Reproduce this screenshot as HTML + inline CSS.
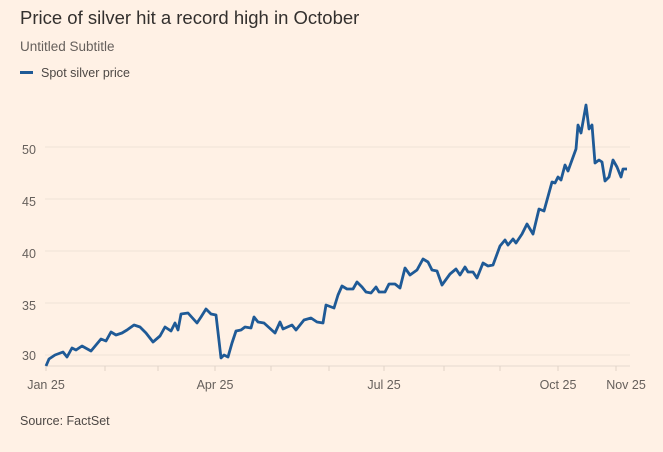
<!DOCTYPE html>
<html><head><meta charset="utf-8"><style>
body{margin:0;background:#fff1e5;width:663px;height:447px;overflow:hidden;font-family:"Liberation Sans",sans-serif}
</style></head><body>
<svg width="663" height="447" xmlns="http://www.w3.org/2000/svg">
<rect width="663" height="447" fill="#fff1e5"/>
<text x="20" y="24" font-size="18.5" fill="#33302e">Price of silver hit a record high in October</text>
<text x="20" y="51" font-size="13.5" fill="#66605c">Untitled Subtitle</text>
<rect x="20" y="71" width="13" height="3" fill="#1f5a96"/>
<text x="41" y="77" font-size="12.5" fill="#4d4845">Spot silver price</text>
<g stroke="#efe2d6" stroke-width="1">
<line x1="45" x2="630" y1="147" y2="147"/><line x1="45" x2="630" y1="199" y2="199"/>
<line x1="45" x2="630" y1="251" y2="251"/><line x1="45" x2="630" y1="303" y2="303"/>
<line x1="45" x2="630" y1="355" y2="355"/>
</g>
<line x1="45" x2="630" y1="366" y2="366" stroke="#e6d9ce"/>
<g stroke="#e0d3c8">
<line x1="46" x2="46" y1="366" y2="371"/><line x1="105" x2="105" y1="366" y2="371"/><line x1="158" x2="158" y1="366" y2="371"/>
<line x1="215" x2="215" y1="366" y2="371"/><line x1="271" x2="271" y1="366" y2="371"/><line x1="329" x2="329" y1="366" y2="371"/>
<line x1="384" x2="384" y1="366" y2="371"/><line x1="444" x2="444" y1="366" y2="371"/><line x1="500" x2="500" y1="366" y2="371"/>
<line x1="558" x2="558" y1="366" y2="371"/><line x1="616" x2="616" y1="366" y2="371"/>
</g>
<g font-size="12.5" fill="#66605c">
<text x="22" y="154">50</text><text x="22" y="206">45</text><text x="22" y="258">40</text><text x="22" y="310">35</text><text x="22" y="360">30</text>
<text x="46" y="389" text-anchor="middle">Jan 25</text><text x="215" y="389" text-anchor="middle">Apr 25</text>
<text x="384" y="389" text-anchor="middle">Jul 25</text><text x="558" y="389" text-anchor="middle">Oct 25</text>
<text x="626" y="389" text-anchor="middle">Nov 25</text>
<text x="20" y="425" fill="#4d4845">Source: FactSet</text>
</g>
<polyline fill="none" stroke="#1f5a96" stroke-width="2.8" stroke-linejoin="round" points="46,366 49,359 55,355 63,352 67,357 72,348 76,350 82,346 91,351 101,339 106,341 111,332 116,335 122,333 127,330 134,325 140,327 146,333 153,342 160,336 165,327 171,331 175,323 178,330 181,314 188,313 197,323 201,317 206,309 211,314 216,315 221,358 224,355 228,357 232,343 236,331 241,330 245,327 251,328 254,317 258,322 264,323 275,333 280,322 283,329 292,325 296,330 304,320 311,318 317,322 323,323 326,305 334,308 338,295 342,286 347,289 353,289 357,282 362,287 366,292 371,293 376,287 379,292 385,292 389,284 395,284 400,288 405,268 410,275 417,270 423,259 428,262 432,270 437,271 442,285 450,274 456,269 460,275 465,267 468,272 473,272 477,278 483,263 488,266 493,265 500,246 505,240 508,245 513,239 516,243 522,234 527,224 533,234 539,209 544,211 552,182 555,183 558,177 561,180 565,165 568,171 576,149 578,125 581,133 586,105 589,129 592,125 595,163 599,160 602,162 605,181 609,177 613,160 617,167 621,177 623,169 627,169"/>
</svg>
</body></html>
